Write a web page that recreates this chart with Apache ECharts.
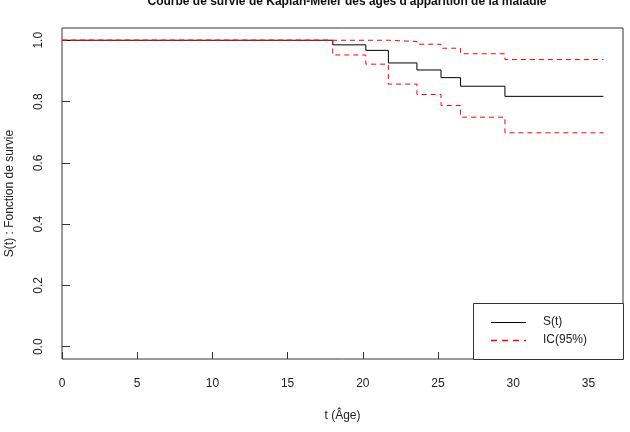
<!DOCTYPE html>
<html>
<head>
<meta charset="utf-8">
<script src="https://cdn.jsdelivr.net/npm/echarts@6/dist/echarts.min.js"></script>
<style>html,body{margin:0;padding:0;background:#fff}#c{width:630px;height:432px}</style>
</head>
<body>
<div id="c"></div>
<script>
// Kaplan-Meier step data
var times = [0, 18, 20.2, 21.7, 23.6, 25.2, 26.5, 29.45, 36];
var survival = [1, 0.985, 0.967, 0.926, 0.903, 0.878, 0.850, 0.817, 0.817];
var upperCI = [1, 1, 1, 0.996, 0.987, 0.974, 0.956, 0.937, 0.937];
var lowerCI = [1, 0.952, 0.922, 0.857, 0.823, 0.787, 0.749, 0.698, 0.698];
var xTicks = [0, 5, 10, 15, 20, 25, 30, 35];
var yTicks = [0, 0.2, 0.4, 0.6, 0.8, 1.0];

function pairs(v) { return times.map(function (t, i) { return [t, v[i]]; }); }

var font = 'Liberation Sans, Arial, sans-serif';
var chart = echarts.init(document.getElementById('c'), null, { renderer: 'canvas' });
chart.setOption({
  backgroundColor: '#fff',
  animation: false,
  title: {
    text: "Courbe de survie de Kaplan-Meier des âges d'apparition de la maladie",
    left: 342, textAlign: 'center', top: -9,
    textStyle: { fontFamily: font, fontSize: 12, fontWeight: 'bold', color: '#111' }
  },
  grid: { left: 62, right: 7, top: 28, bottom: 73, outerBoundsMode: 'none', containLabel: false,
    show: true, borderColor: '#333', borderWidth: 1, backgroundColor: 'transparent' },
  xAxis: {
    type: 'value', min: 0, max: 37.3,
    name: 't (Âge)', nameLocation: 'middle', nameGap: 51,
    nameTextStyle: { fontFamily: font, fontSize: 12, color: '#222' },
    axisLine: { show: false, onZero: false },
    axisTick: { show: true, inside: true, length: 7, lineStyle: { color: '#333' }, customValues: xTicks },
    axisLabel: { fontFamily: font, fontSize: 12, color: '#222', margin: 19, customValues: xTicks },
    splitLine: { show: false }
  },
  yAxis: {
    type: 'value', min: -0.04, max: 1.04,
    name: 'S(t) : Fonction de survie', nameLocation: 'middle', nameGap: 46,
    nameTextStyle: { fontFamily: font, fontSize: 12, color: '#222' },
    axisLine: { show: false, onZero: false },
    axisTick: { show: true, inside: true, length: 8, lineStyle: { color: '#333' }, customValues: yTicks },
    axisLabel: { fontFamily: font, fontSize: 12, color: '#222', margin: 17, rotate: 90,
      customValues: yTicks, formatter: function (v) { return v.toFixed(1); } },
    splitLine: { show: false }
  },
  series: [
    { name: 'S(t)', type: 'line', step: 'end', data: pairs(survival), showSymbol: false,
      lineStyle: { color: '#000', width: 1 }, z: 2 },
    { name: 'IC(95%)', type: 'line', step: 'end', data: pairs(upperCI), showSymbol: false,
      lineStyle: { color: '#ff0000', width: 1, type: [5, 4] }, z: 3 },
    { name: 'IC(95%)', type: 'line', step: 'end', data: pairs(lowerCI), showSymbol: false,
      lineStyle: { color: '#ff0000', width: 1, type: [5, 4] }, z: 3 }
  ],
  graphic: [
    { type: 'rect', shape: { x: 473.5, y: 303.5, width: 150, height: 56 },
      style: { fill: '#fff', stroke: '#333', lineWidth: 1 }, z: 10 },
    { type: 'line', shape: { x1: 491, y1: 322.5, x2: 526, y2: 322.5 },
      style: { stroke: '#000', lineWidth: 1 }, z: 11 },
    { type: 'line', shape: { x1: 491, y1: 340.5, x2: 526, y2: 340.5 },
      style: { stroke: '#ff0000', lineWidth: 1.5, lineDash: [6, 5] }, z: 11 },
    { type: 'text', x: 543, y: 322, style: { text: 'S(t)', fill: '#222', font: '12px ' + font, verticalAlign: 'middle' }, z: 11 },
    { type: 'text', x: 543, y: 340, style: { text: 'IC(95%)', fill: '#222', font: '12px ' + font, verticalAlign: 'middle' }, z: 11 }
  ]
});
</script>
</body>
</html>
